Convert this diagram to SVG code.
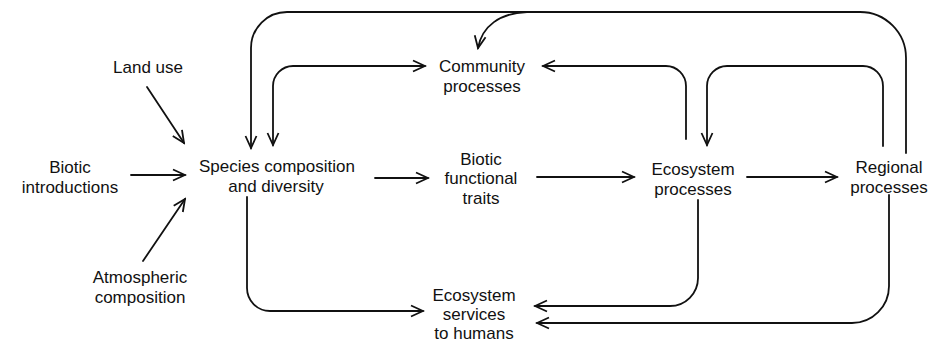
<svg xmlns="http://www.w3.org/2000/svg" width="945" height="343" viewBox="0 0 945 343">
<style>
text{font-family:"Liberation Sans",Arial,sans-serif;font-size:17px;fill:#111;text-anchor:middle}
.c{fill:none;stroke:#111;stroke-width:1.8;stroke-linecap:round}
</style>
<defs>
<marker id="ah" markerUnits="userSpaceOnUse" markerWidth="16" markerHeight="14" viewBox="0 0 16 14" refX="14" refY="7" orient="auto-start-reverse">
<path d="M2,1.5 L14,7 L2,12.5" fill="none" stroke="#111" stroke-width="1.8" stroke-linejoin="miter"/>
</marker>
</defs>
<rect width="945" height="343" fill="#fff"/>
<g id="connectors">
<path class="c" d="M147 87 L184 143" marker-end="url(#ah)"/>
<path class="c" d="M131 175 L185 175" marker-end="url(#ah)"/>
<path class="c" d="M143 261 L185 199" marker-end="url(#ah)"/>
<path class="c" d="M375 178 L428 178" marker-end="url(#ah)"/>
<path class="c" d="M537 177 L634 177" marker-end="url(#ah)"/>
<path class="c" d="M747 177 L837 177" marker-end="url(#ah)"/>
<path class="c" d="M906 153 L906 58 A46 46 0 0 0 860 12 L287 12 A36 36 0 0 0 251 48 L251 148" marker-end="url(#ah)"/>
<path class="c" d="M527 12 C500 13 482 26 478 48" marker-end="url(#ah)"/>
<path class="c" d="M425 66 L293 66 A20 20 0 0 0 273 86 L273 145" marker-start="url(#ah)" marker-end="url(#ah)"/>
<path class="c" d="M686 139 L686 86 A20 20 0 0 0 666 66 L543 66" marker-end="url(#ah)"/>
<path class="c" d="M883 146 L883 86 A20 20 0 0 0 863 66 L727 66 A20 20 0 0 0 707 86 L707 145" marker-end="url(#ah)"/>
<path class="c" d="M698 200 L698 278 A28 28 0 0 1 670 306 L535 306" marker-end="url(#ah)"/>
<path class="c" d="M889 195 L889 286 A37 37 0 0 1 852 323 L537 323" marker-end="url(#ah)"/>
<path class="c" d="M247 197 L247 288 A23 23 0 0 0 270 311 L423 311" marker-end="url(#ah)"/>
</g>
<g id="land-use"><text x="148" y="73">Land use</text></g>
<g id="biotic-introductions"><text x="70" y="173">Biotic</text><text x="70" y="192.5">introductions</text></g>
<g id="atmospheric-composition"><text x="140" y="283">Atmospheric</text><text x="140" y="302.5">composition</text></g>
<g id="species"><text x="277" y="172">Species composition</text><text x="276" y="191.5">and diversity</text></g>
<g id="community"><text x="482" y="72">Community</text><text x="482" y="91.5">processes</text></g>
<g id="biotic-functional"><text x="481" y="164.5">Biotic</text><text x="481" y="184">functional</text><text x="481" y="203.5">traits</text></g>
<g id="ecosystem-processes"><text x="693" y="175">Ecosystem</text><text x="693" y="194.5">processes</text></g>
<g id="regional-processes"><text x="889" y="173">Regional</text><text x="889" y="192.5">processes</text></g>
<g id="ecosystem-services"><text x="474" y="300.5">Ecosystem</text><text x="474" y="319.5">services</text><text x="474" y="338.5">to humans</text></g>
</svg>
